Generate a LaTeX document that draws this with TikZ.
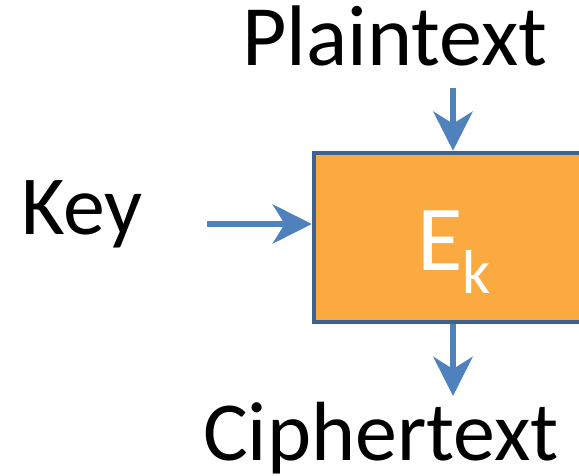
\documentclass[tikz,border=0pt]{standalone}
\usepackage{fontspec}
\setmainfont{Carlito}
\usepackage{xcolor}
\usetikzlibrary{arrows.meta}

\definecolor{boxfill}{RGB}{251,170,66}
\definecolor{boxline}{RGB}{62,97,142}
\definecolor{arrowblue}{RGB}{79,129,189}

\tikzset{
  encbox/.style={draw=boxline, fill=boxfill, line width=4.5pt, minimum width=278pt, minimum height=169pt, inner sep=0pt},
  bigtext/.style={anchor=base, inner sep=0pt, font=\fontsize{84}{90}\selectfont},
  flow/.style={draw=arrowblue, line width=6.5pt, -{Stealth[length=39pt, width=39pt, inset=12pt]}}
}

\begin{document}
\begin{tikzpicture}[x=1pt, y=-1pt]
\useasboundingbox (0,0) rectangle (579,476);
% cipher block
\node[encbox] (enc) at (453,237.5) {};
\node[anchor=base west, inner sep=0pt, white, font=\fontsize{93}{100}\selectfont] (ek) at (417,270)
  {E\raisebox{-23pt}{\fontsize{62}{70}\selectfont k}};

% inputs and output
\node[bigtext, font=\fontsize{86}{90}\selectfont] (plain) at (395,66) {Plaintext};
\node[bigtext] (key) at (82,235) {Key};
\node[bigtext] (cipher) at (381,460) {Ciphertext};

\coordinate (pin) at (453,88);
\coordinate (kin) at (207,224);
\coordinate (cout) at (453,396);

% arrows
\draw[flow] (pin) -- (enc.north);
\draw[flow] (kin) -- (kin -| enc.west);
\draw[flow] (enc.south) -- (cout);
\end{tikzpicture}
\end{document}
